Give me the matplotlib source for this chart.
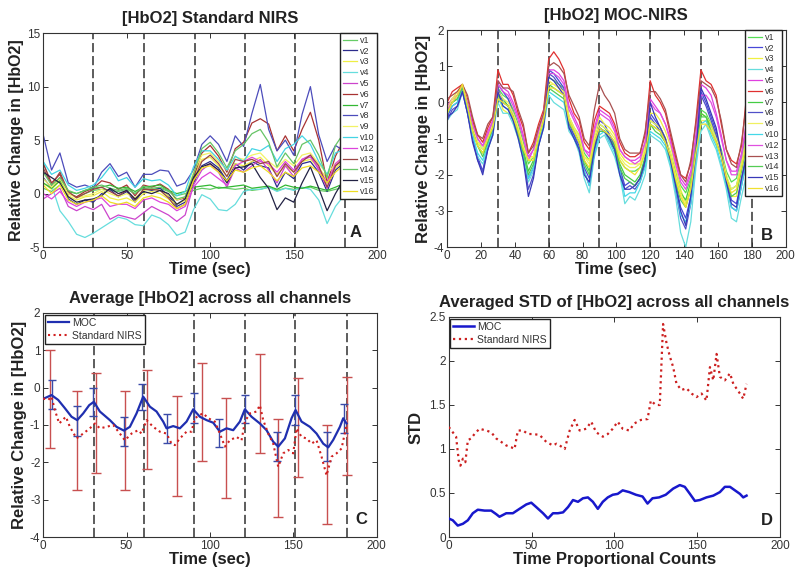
import matplotlib
matplotlib.use("Agg")
import matplotlib.pyplot as plt

plt.rcParams['font.family'] = ['Liberation Sans', 'DejaVu Sans']
plt.rcParams['axes.unicode_minus'] = False

# ---------------- panel A: standard NIRS, all channels ----------------
t_a = [0, 5, 10, 15, 20, 25, 30, 35, 40, 45, 50, 55, 60, 65, 70, 75, 80, 85, 90, 95,
       100, 105, 110, 115, 120, 125, 130, 135, 140, 145, 150, 155, 160, 165, 170, 175, 178]

a_v1 = [0.5, 0.2, 0.8, 0.0, -0.3, 0.0, 0.3, 0.4, 0.3, 0.2, 0.4, 0.0, 0.5, 0.4, 0.5, 0.2, -0.2, 0.0, 0.3, 0.5,
        0.4, 0.6, 0.5, 0.4, 0.5, 0.3, 0.4, 0.6, 0.3, 0.5, 0.4, 0.5, 0.6, 0.3, 0.2, 0.4, 0.5]
a_v2 = [1.5, 0.5, 1.5, -0.5, -1.0, -0.6, -0.8, 0.0, 0.4, -0.3, 0.2, -0.8, 0.4, 0.3, 0.5, -0.2, -1.2, -0.8, 1.0, 2.6,
        3.0, 2.4, 1.2, 2.8, 2.2, 3.0, 2.6, 2.4, 0.6, 2.0, 1.4, 2.8, 3.0, 2.0, 0.2, 2.2, 2.6]
a_v3 = [1.0, 0.4, 1.2, -0.2, -0.6, -0.3, -0.2, 0.2, -0.4, -0.6, -0.4, -0.8, 0.0, 0.2, 0.0, -0.5, -1.0, -0.6, 1.6, 3.2,
        3.4, 2.6, 1.6, 2.8, 2.6, 3.0, 3.4, 2.6, 1.8, 2.6, 2.0, 3.0, 3.2, 2.4, 1.4, 2.4, 2.8]
a_v4 = [3.0, 0.8, -1.6, -2.6, -3.8, -4.1, -3.7, -3.2, -2.7, -2.2, -2.4, -2.9, -3.0, -2.0, -2.3, -2.9, -3.9, -3.6, -1.5, -0.1,
        -0.5, -1.5, -1.6, -1.0, 0.2, 0.4, 0.4, 0.6, 0.2, 0.5, 0.3, 0.6, 0.4, -0.6, -2.8, -1.2, -0.6]
a_v5 = [-0.5, 0.0, 0.5, -1.2, -1.6, -1.2, -1.5, -1.0, -2.4, -2.0, -2.2, -2.4, -1.8, -1.2, -1.6, -2.0, -2.6, -2.0, 0.8, 2.2,
        2.8, 2.0, 0.6, 2.4, 2.0, 2.6, 3.2, 2.2, 1.0, 2.6, 1.6, 3.2, 3.6, 2.2, 0.5, 2.6, 3.0]
a_v6 = [2.8, 1.0, 1.8, 0.0, -0.3, 0.2, 0.5, 1.2, 1.0, 0.4, 0.8, -0.2, 0.8, 0.6, 0.9, 0.4, -0.6, -0.4, 1.5, 3.8,
        4.5, 3.5, 2.0, 4.2, 4.8, 6.6, 7.0, 6.5, 4.0, 5.4, 4.0, 6.0, 7.6, 5.0, 1.0, 3.5, 4.4]
a_v7 = [1.0, 0.5, 1.2, 0.2, 0.0, 0.3, 0.5, 0.6, 0.8, 0.5, 0.6, 0.2, 0.6, 0.7, 0.8, 0.3, 0.0, 0.2, 0.6, 0.7,
        0.8, 0.5, 0.6, 0.7, 0.8, 0.5, 0.6, 0.7, 0.4, 0.8, 0.6, 0.5, 0.7, 0.5, 0.3, 0.6, 0.8]
a_v8 = [5.5, 2.2, 3.8, 1.0, 0.6, 0.8, 0.5, 2.0, 2.8, 1.6, 2.0, 0.6, 1.8, 1.8, 2.2, 2.1, 0.7, 1.0, 2.2, 4.6,
        5.4, 4.6, 3.0, 5.4, 4.4, 7.5, 10.2, 6.0, 4.0, 5.0, 3.6, 7.4, 10.0, 5.5, 3.0, 4.5, 4.2]
a_v9 = [1.4, 0.6, 1.4, 0.0, -0.4, -0.2, 0.0, 0.4, 0.0, -0.3, 0.0, -0.4, 0.3, 0.4, 0.3, -0.2, -0.6, -0.3, 2.0, 3.6,
        3.8, 3.0, 2.2, 3.4, 3.2, 3.6, 3.8, 3.0, 2.4, 3.2, 2.6, 3.6, 3.8, 2.8, 1.8, 2.8, 3.2]
a_v10 = [3.0, 1.8, 2.2, 0.8, 0.3, 0.5, 0.8, 1.5, 2.5, 1.2, 1.5, 0.6, 1.4, 1.2, 1.3, 0.8, -0.2, 0.2, 2.5, 4.0,
         4.0, 3.2, 2.2, 3.5, 3.0, 4.2, 4.0, 4.5, 3.0, 4.2, 4.6, 5.4, 4.6, 3.0, 1.8, 3.8, 4.0]
a_v12 = [0.0, -0.5, 0.2, -0.8, -1.2, -0.8, -0.6, -0.4, -1.2, -1.0, -1.0, -1.4, -0.6, -0.4, -0.8, -1.0, -1.6, -1.2, 0.6, 1.5,
         2.0, 1.4, 0.8, 2.6, 3.0, 3.4, 3.0, 2.8, 2.0, 3.0, 2.2, 3.2, 3.4, 2.4, 1.0, 2.8, 3.2]
a_v13 = [2.4, 0.8, 2.0, 0.2, -0.4, 0.0, 0.4, 0.6, 0.2, -0.2, 0.3, -0.6, 0.4, 0.4, 0.3, -0.4, -1.4, -1.0, 1.2, 3.0,
         3.6, 2.8, 1.6, 3.2, 3.0, 3.2, 2.8, 3.0, 1.6, 2.8, 2.0, 3.0, 3.6, 2.6, 0.6, 2.6, 3.0]
a_v14 = [2.0, 0.8, 1.5, 0.3, 0.0, 0.3, 0.6, 0.8, 0.5, 0.3, 0.5, 0.0, 0.7, 0.5, 0.6, 0.3, -0.5, -0.3, 1.8, 4.2,
         4.8, 3.8, 2.4, 4.0, 4.6, 5.6, 6.0, 4.8, 2.5, 3.8, 2.8, 4.6, 5.0, 3.6, 1.5, 4.5, 5.2]
a_v15 = [2.0, 1.5, 1.0, -0.3, -0.8, -0.6, -0.5, -0.2, 0.5, 0.0, 0.3, -0.5, 0.2, 0.0, 0.3, 0.0, -1.0, -0.5, 1.5, 2.5,
         2.8, 2.2, 1.0, 2.4, 2.5, 2.8, 1.5, 0.5, -1.5, -0.4, -0.8, 1.0, 2.5, 0.5, -1.6, 0.0, 0.8]
a_v16 = [0.8, 0.0, 0.8, -0.6, -1.0, -0.8, -0.6, -0.2, -0.8, -1.0, -0.8, -1.2, -0.4, -0.2, -0.4, -0.8, -1.4, -1.0, 1.2, 2.4,
         2.6, 2.0, 1.2, 2.2, 2.0, 2.4, 2.6, 2.0, 1.2, 2.0, 1.6, 2.4, 2.6, 2.0, 1.0, 2.0, 2.4]

# ---------------- panel B: MOC-NIRS, all channels ----------------
t_b = [0, 3, 6, 9, 12, 15, 18, 21, 24, 27, 30, 33, 36, 39, 42, 45, 48, 51, 54, 57,
       60, 63, 66, 69, 72, 75, 78, 81, 84, 87, 90, 93, 96, 99, 102, 105, 108, 111, 114, 117,
       120, 123, 126, 129, 132, 135, 138, 141, 144, 147, 150, 153, 156, 159, 162, 165, 168, 171, 174, 177]

b_v1 = [-0.1, 0.1, 0.2, 0.4, 0.0, -0.6, -1.1, -1.3, -0.9, -0.6,
        0.4, 0.2, 0.1, -0.2, -0.6, -1.1, -1.7, -1.5, -0.9, -0.4,
        0.7, 0.6, 0.5, 0.4, -0.4, -0.7, -0.9, -1.4, -1.6, -1.0,
        -0.6, -0.7, -0.9, -1.1, -1.6, -1.8, -1.9, -1.9, -1.8, -1.3,
        -0.5, -0.6, -0.7, -1.0, -1.4, -1.9, -2.3, -2.5, -2.1, -1.1,
        -0.2, -0.3, -0.6, -0.9, -1.3, -1.9, -2.2, -2.1, -1.5, -0.8]
b_v2 = [-0.4, -0.1, 0.0, 0.4, -0.2, -0.9, -1.5, -1.9, -1.2, -0.8,
        0.5, 0.3, 0.1, -0.3, -0.8, -1.4, -2.1, -1.8, -1.1, -0.6,
        0.9, 0.8, 0.6, 0.4, -0.6, -0.9, -1.2, -1.8, -2.1, -1.2,
        -0.5, -0.6, -0.9, -1.2, -1.8, -2.3, -2.2, -2.3, -2.1, -1.6,
        -0.3, -0.5, -0.7, -1.0, -1.5, -2.2, -2.9, -3.2, -2.6, -1.4,
        0.3, 0.0, -0.4, -0.8, -1.4, -2.1, -2.7, -2.8, -2.1, -1.4]
b_v3 = [-0.1, 0.1, 0.3, 0.5, 0.0, -0.7, -1.1, -1.2, -0.9, -0.6,
        0.2, -0.2, -0.3, -0.4, -0.8, -1.3, -1.5, -1.5, -1.0, -0.5,
        0.6, 0.5, 0.4, 0.3, -0.4, -0.7, -0.9, -1.5, -1.6, -0.9,
        -0.4, -0.6, -0.7, -0.9, -1.4, -1.6, -1.7, -1.7, -1.7, -1.2,
        -0.3, -0.3, -0.5, -0.8, -1.2, -1.8, -2.4, -2.8, -2.2, -1.2,
        -0.3, -0.4, -0.6, -0.9, -1.4, -2.0, -2.6, -2.6, -1.8, -1.2]
b_v4 = [-0.5, -0.3, -0.2, 0.3, -0.3, -1.0, -1.5, -1.7, -1.3, -0.9,
        0.0, -0.3, -0.3, -0.6, -1.0, -1.6, -2.2, -1.9, -1.2, -0.7,
        0.2, 0.0, -0.1, -0.2, -0.8, -1.0, -1.4, -2.1, -2.5, -1.5,
        -1.0, -0.9, -1.2, -1.5, -2.0, -2.8, -2.6, -2.7, -2.4, -2.0,
        -0.9, -1.0, -1.1, -1.3, -1.8, -2.6, -3.6, -4.0, -3.3, -1.8,
        -0.8, -0.6, -1.0, -1.3, -1.8, -2.4, -3.2, -3.3, -2.6, -2.0]
b_v5 = [-0.1, 0.1, 0.2, 0.45, 0.0, -0.5, -1.0, -1.2, -0.8, -0.5,
        0.6, 0.4, 0.3, 0.0, -0.4, -0.9, -1.6, -1.3, -0.8, -0.3,
        0.9, 0.9, 0.8, 0.6, -0.1, -0.4, -0.7, -1.3, -1.4, -0.7,
        -0.2, -0.3, -0.4, -0.7, -1.3, -1.5, -1.6, -1.6, -1.5, -1.1,
        0.1, -0.1, -0.3, -0.6, -1.0, -1.6, -2.1, -2.3, -1.9, -0.9,
        0.5, 0.4, 0.2, -0.3, -0.9, -1.6, -1.9, -1.9, -1.4, -0.5]
b_v6 = [0.0, 0.3, 0.4, 0.5, 0.1, -0.5, -0.9, -1.1, -0.7, -0.4,
        0.9, 0.5, 0.5, 0.2, -0.3, -0.7, -1.4, -1.1, -0.6, -0.2,
        1.2, 1.4, 1.2, 0.9, 0.1, -0.3, -0.5, -1.1, -1.3, -0.5,
        -0.1, -0.2, -0.3, -0.6, -1.1, -1.4, -1.5, -1.5, -1.4, -0.9,
        0.6, 0.2, 0.0, -0.3, -0.9, -1.5, -2.0, -2.1, -1.7, -0.5,
        0.9, 0.6, 0.5, 0.2, -0.6, -1.3, -1.6, -1.7, -1.2, 0.2]
b_v7 = [-0.2, 0.0, 0.1, 0.4, -0.1, -0.7, -1.2, -1.4, -1.1, -0.7,
        0.3, 0.1, -0.1, -0.4, -0.8, -1.3, -1.9, -1.6, -1.0, -0.5,
        0.5, 0.4, 0.3, 0.2, -0.5, -0.8, -1.1, -1.6, -1.9, -1.1,
        -0.7, -0.8, -1.0, -1.2, -1.7, -2.0, -2.1, -2.2, -2.0, -1.5,
        -0.6, -0.7, -0.8, -1.1, -1.5, -2.0, -2.5, -2.7, -2.2, -1.2,
        -0.3, -0.4, -0.7, -1.0, -1.5, -2.1, -2.4, -2.3, -1.7, -1.0]
b_v8 = [-0.5, -0.2, -0.1, 0.3, -0.3, -1.0, -1.6, -1.9, -1.3, -0.8,
        0.4, 0.0, -0.1, -0.5, -0.9, -1.5, -2.4, -2.0, -1.2, -0.6,
        0.8, 0.7, 0.5, 0.3, -0.7, -0.9, -1.3, -1.9, -2.3, -1.4,
        -0.8, -0.8, -1.1, -1.3, -1.9, -2.4, -2.3, -2.4, -2.2, -1.7,
        -0.4, -0.6, -0.8, -1.1, -1.6, -2.4, -3.2, -3.5, -2.8, -1.5,
        0.2, -0.1, -0.5, -0.9, -1.5, -2.2, -2.9, -3.0, -2.3, -1.6]
b_v9 = [-0.2, 0.1, 0.2, 0.5, 0.0, -0.7, -1.1, -1.3, -1.0, -0.6,
        0.3, 0.1, 0.0, -0.3, -0.7, -1.2, -1.6, -1.5, -0.9, -0.4,
        0.5, 0.5, 0.4, 0.3, -0.4, -0.7, -1.0, -1.5, -1.7, -1.0,
        -0.6, -0.7, -0.8, -1.0, -1.5, -1.7, -1.8, -1.8, -1.7, -1.3,
        -0.5, -0.6, -0.7, -1.0, -1.4, -2.0, -2.5, -2.9, -2.3, -1.3,
        -0.5, -0.5, -0.7, -1.0, -1.4, -2.0, -2.4, -2.3, -1.7, -1.0]
b_v10 = [-0.3, -0.1, 0.0, 0.4, -0.2, -0.9, -1.4, -1.6, -1.2, -0.8,
         0.1, -0.1, -0.2, -0.5, -0.9, -1.5, -2.1, -1.8, -1.1, -0.6,
         0.3, 0.2, 0.1, 0.0, -0.7, -1.0, -1.3, -1.9, -2.3, -1.4,
         -0.9, -0.8, -1.1, -1.4, -1.9, -2.6, -2.5, -2.5, -2.2, -1.8,
         -0.8, -0.9, -1.0, -1.2, -1.7, -2.4, -3.1, -3.3, -2.8, -1.6,
         -0.6, -0.5, -0.9, -1.2, -1.7, -2.3, -2.9, -3.0, -2.3, -1.6]
b_v12 = [-0.2, 0.0, 0.2, 0.4, 0.0, -0.6, -1.0, -1.2, -0.9, -0.5,
         0.5, 0.3, 0.2, -0.1, -0.5, -1.0, -1.5, -1.3, -0.8, -0.3,
         0.8, 0.8, 0.7, 0.5, -0.2, -0.5, -0.8, -1.3, -1.5, -0.8,
         -0.3, -0.4, -0.5, -0.8, -1.3, -1.5, -1.6, -1.7, -1.6, -1.1,
         0.0, -0.2, -0.3, -0.6, -1.1, -1.7, -2.2, -2.4, -2.0, -1.0,
         0.2, 0.2, 0.0, -0.4, -1.0, -1.6, -2.0, -2.0, -1.5, -0.6]
b_v13 = [0.1, 0.2, 0.3, 0.5, 0.2, -0.4, -0.9, -1.0, -0.6, -0.4,
         0.6, 0.4, 0.4, 0.3, -0.2, -0.6, -1.4, -1.2, -0.7, -0.3,
         1.0, 1.1, 1.0, 0.8, 0.2, -0.1, -0.4, -1.0, -1.2, -0.2,
         0.5, 0.2, 0.0, -0.3, -1.0, -1.3, -1.4, -1.4, -1.4, -0.8,
         0.3, 0.3, 0.1, -0.2, -0.8, -1.4, -2.0, -2.2, -1.6, -0.6,
         0.6, 0.5, 0.4, 0.1, -0.5, -1.3, -1.7, -1.8, -1.1, 0.0]
b_v14 = [-0.3, 0.0, 0.1, 0.4, -0.1, -0.8, -1.2, -1.5, -1.1, -0.7,
         0.2, 0.0, -0.1, -0.4, -0.9, -1.4, -2.0, -1.7, -1.0, -0.5,
         0.4, 0.3, 0.2, 0.1, -0.6, -0.8, -1.1, -1.7, -2.0, -1.2,
         -0.8, -0.8, -1.0, -1.3, -1.8, -2.1, -2.2, -2.3, -2.1, -1.6,
         -0.6, -0.8, -0.9, -1.1, -1.6, -2.2, -2.7, -2.9, -2.4, -1.3,
         -0.4, -0.4, -0.8, -1.1, -1.5, -2.1, -2.6, -2.5, -1.9, -1.2]
b_v15 = [-0.4, -0.3, -0.1, 0.3, -0.3, -1.1, -1.6, -2.0, -1.3, -0.9,
         0.3, -0.1, -0.2, -0.5, -1.0, -1.6, -2.6, -2.1, -1.2, -0.7,
         0.7, 0.6, 0.4, 0.2, -0.7, -1.0, -1.3, -2.0, -2.2, -1.3,
         -0.7, -0.8, -1.0, -1.3, -2.0, -2.4, -2.4, -2.3, -2.1, -1.6,
         0.0, -0.4, -0.7, -1.0, -1.6, -2.3, -3.0, -3.4, -2.6, -1.4,
         0.4, 0.1, -0.3, -0.7, -1.4, -2.2, -2.8, -2.9, -2.1, -1.5]
b_v16 = [-0.3, 0.0, 0.2, 0.5, -0.1, -0.8, -1.2, -1.4, -1.0, -0.7,
         0.1, 0.0, -0.1, -0.4, -0.8, -1.3, -1.6, -1.6, -1.0, -0.5,
         0.4, 0.4, 0.3, 0.2, -0.5, -0.8, -1.1, -1.6, -1.8, -1.1,
         -0.7, -0.8, -0.9, -1.1, -1.6, -1.8, -1.9, -2.0, -1.8, -1.4,
         -0.6, -0.7, -0.8, -1.1, -1.5, -2.1, -2.6, -2.9, -2.4, -1.4,
         -0.6, -0.6, -0.8, -1.1, -1.5, -2.1, -2.5, -2.4, -1.8, -1.1]

channel_labels = ['v1', 'v2', 'v3', 'v4', 'v5', 'v6', 'v7', 'v8', 'v9', 'v10', 'v12', 'v13', 'v14', 'v15', 'v16']
colors_a = ['#66cc66', '#2c2c8c', '#eeee44', '#66dddd', '#cc44cc', '#a83232', '#33b833', '#4c4cbb',
            '#f2f266', '#44d4e4', '#dd44dd', '#9a4444', '#66c466', '#222244', '#eedd22']
colors_b = ['#55dd55', '#4848d8', '#f0f040', '#66dddd', '#e040e0', '#e03030', '#44cc44', '#5050c8',
            '#f0f060', '#44d8e8', '#e050e0', '#a85050', '#55cc55', '#3838b8', '#f0e030']

stim_a = [30, 60.4, 90.6, 121, 151, 181]
stim_b = [30, 60, 90, 120, 150, 180]
stim_c = [30.4, 60.6, 90.6, 121, 151, 182]

# ---------------- panel C: channel averages ----------------
t_moc = [0, 5, 9, 13, 17, 20.4, 24, 27.6, 30.4, 34, 40, 44, 48.4, 52, 56, 60, 64, 68, 72, 74,
         78, 82, 86, 90, 94, 98, 102, 106, 110, 114, 118, 121, 125, 130, 134, 138, 141, 145, 149, 151.4,
         155, 160, 164, 168, 171, 174, 178, 180, 182]
avg_moc = [-0.3, -0.2, -0.33, -0.55, -0.78, -0.87, -0.69, -0.47, -0.38, -0.64,
           -0.87, -1.05, -1.15, -1.05, -0.69, -0.24, -0.51, -0.64, -0.91, -1.09,
           -1.03, -1.09, -0.91, -0.58, -0.78, -0.87, -0.94, -1.18, -1.09, -1.14,
           -0.91, -0.58, -0.78, -0.96, -1.14, -1.45, -1.58, -1.36, -0.82, -0.6,
           -0.91, -1.05, -1.23, -1.5, -1.6, -1.4, -1.05, -0.82, -0.96]
t_nirs = [0, 3, 5, 7, 9.6, 11.6, 13.6, 16, 20, 24, 28, 31, 34, 38, 42, 46, 49, 53, 57, 59,
          62, 66, 70, 74, 77, 79, 82, 86, 89, 91, 94, 96, 99, 103, 106, 109, 112, 116, 119, 121,
          124, 128, 130, 132, 135, 138, 141, 144, 147, 150, 152, 155, 158, 161, 164, 167, 170, 173, 176, 179, 182]
avg_nirs = [-0.29, -0.33, -0.24, -0.6, -0.96, -0.87, -0.78, -1.05, -1.36, -1.23,
            -1.09, -0.96, -1.09, -1.05, -1.0, -1.23, -1.41, -1.23, -1.14, -1.23,
            -0.87, -1.05, -1.18, -1.23, -1.5, -1.54, -1.36, -1.18, -1.18, -0.82,
            -0.73, -0.69, -0.82, -0.91, -1.23, -1.58, -1.41, -1.32, -1.41, -0.91,
            -0.69, -0.64, -0.47, -0.87, -1.23, -1.5, -2.12, -1.76, -1.67, -1.76,
            -1.09, -1.32, -1.36, -1.5, -1.41, -1.85, -2.35, -1.85, -1.76, -1.63, -1.0]

moc_err_t = [5, 20.5, 30, 48.5, 59.5, 74.5, 90.5, 105.5, 121, 140.5, 151, 170.5, 180.5]
moc_err_mid = [-0.18, -0.9, -0.38, -1.17, -0.25, -1.1, -0.55, -1.22, -0.58, -1.58, -0.6, -1.58, -0.83]
moc_err = [0.38, 0.4, 0.38, 0.38, 0.36, 0.39, 0.4, 0.38, 0.38, 0.38, 0.39, 0.38, 0.38]
nirs_err_t = [4, 20, 31.5, 49, 62, 80, 95, 109.5, 130, 141, 153, 170, 182]
nirs_err_mid = [-0.3, -1.42, -0.95, -1.42, -0.85, -1.56, -0.65, -1.62, -0.43, -2.16, -1.07, -2.33, -1.03]
nirs_err = [1.32, 1.33, 1.33, 1.33, 1.33, 1.34, 1.32, 1.33, 1.33, 1.31, 1.33, 1.32, 1.31]

# ---------------- panel D: averaged STD ----------------
t_std_moc = [0, 2.4, 5.4, 8.5, 11.5, 14.5, 17.5, 21.6, 25.6, 28.6, 30.6, 34.7, 38.7, 42.7, 46.8, 49.8, 52.8, 56.9, 59.9, 62.9,
             65.9, 69, 72, 75, 78, 81, 84, 87, 90, 93, 96, 99, 102, 105, 109, 113, 117, 120, 123, 127,
             131, 135.5, 139.5, 142.5, 145.6, 148.6, 151.6, 155.6, 159.7, 163.7, 166.7, 169.8, 172.8, 175.8, 177.8, 179.8]
std_moc = [0.21, 0.19, 0.13, 0.15, 0.19, 0.27, 0.31, 0.3, 0.3, 0.26, 0.23, 0.27, 0.27, 0.32, 0.37, 0.39, 0.34, 0.27, 0.21, 0.27,
           0.27, 0.28, 0.34, 0.42, 0.40, 0.44, 0.45, 0.40, 0.32, 0.40, 0.45, 0.48, 0.49, 0.53, 0.51, 0.48, 0.46, 0.38, 0.44, 0.45,
           0.48, 0.55, 0.59, 0.57, 0.49, 0.41, 0.42, 0.45, 0.47, 0.51, 0.57, 0.57, 0.53, 0.49, 0.45, 0.47]
t_std_nirs = [0, 2.4, 4.4, 6, 7, 8.5, 10, 11.5, 13.5, 15.5, 18.5, 22.6, 25.6, 28.6, 31.7, 34.7, 37.7, 39.7, 41.7, 44.8,
              47.8, 50.8, 54.8, 58.9, 62.9, 65, 67, 70, 73, 76, 79, 83, 86, 89, 93, 96, 99, 102, 105, 109,
              112, 116, 120, 122, 125, 127.4, 129.4, 131.5, 133.5, 135.5, 137.5, 140.5, 143.5, 146.6, 149.6, 152.6,
              155.6, 157.7, 159.7, 161.7, 163.7, 166.7, 169.8, 171.8, 175.8, 177.8, 179.8]
std_nirs = [1.25, 1.19, 1.14, 0.87, 0.81, 0.89, 0.85, 1.1, 1.12, 1.17, 1.23, 1.21, 1.19, 1.12, 1.08, 1.04, 1.02, 1.0, 1.21, 1.21,
            1.17, 1.17, 1.16, 1.08, 1.04, 1.06, 1.04, 1.0, 1.21, 1.33, 1.21, 1.23, 1.31, 1.19, 1.14, 1.17, 1.23, 1.31, 1.23, 1.21,
            1.29, 1.33, 1.34, 1.55, 1.5, 1.5, 2.42, 2.2, 2.05, 1.93, 1.74, 1.67, 1.69, 1.63, 1.59, 1.63,
            1.55, 1.93, 1.78, 2.08, 1.82, 1.78, 1.86, 1.74, 1.63, 1.57, 1.74]

a_series = [a_v1, a_v2, a_v3, a_v4, a_v5, a_v6, a_v7, a_v8, a_v9, a_v10, a_v12, a_v13, a_v14, a_v15, a_v16]
b_series = [b_v1, b_v2, b_v3, b_v4, b_v5, b_v6, b_v7, b_v8, b_v9, b_v10, b_v12, b_v13, b_v14, b_v15, b_v16]

TXT = '#222222'


def style_axes(ax):
    ax.tick_params(direction='in', top=True, right=True, length=3.5, width=0.7,
                   labelsize=8.5, labelcolor='#333333', pad=2, colors='#333333')
    for sp in ax.spines.values():
        sp.set_linewidth(0.8)
        sp.set_color('#333333')


def stim_lines(ax, xs):
    for x in xs:
        ax.axvline(x, color='#303030', lw=1.1, ls=(0, (6, 2.5)), zorder=1)


def channel_legend(ax, anchor):
    ax.legend(loc='upper right', bbox_to_anchor=anchor, borderaxespad=0, fontsize=6.5,
              labelspacing=0.2, handlelength=1.6, handletextpad=0.3, borderpad=0.3,
              fancybox=False, framealpha=1, edgecolor='#222222', labelcolor='#333333')


fig = plt.figure(figsize=(8, 5.76), dpi=100)

# ---- A ----
axA = fig.add_axes([0.054, 0.571, 0.4175, 0.3715])
stim_lines(axA, stim_a)
for lab, col, ys in zip(channel_labels, colors_a, a_series):
    axA.plot(t_a, ys, color=col, lw=0.9, label=lab, zorder=2)
axA.set_xlim(0, 200)
axA.set_ylim(-5, 15)
axA.set_xticks([0, 50, 100, 150, 200])
axA.set_yticks([-5, 0, 5, 10, 15])
style_axes(axA)
channel_legend(axA, (1.0, 1.0))
axA.set_title('[HbO2] Standard NIRS', fontsize=12, fontweight='bold', color=TXT, pad=7)
axA.set_xlabel('Time (sec)', fontsize=12, fontweight='bold', color=TXT, labelpad=0)
axA.set_ylabel('Relative Change in [HbO2]', fontsize=11.5, fontweight='bold', color=TXT, labelpad=2)
axA.text(0.935, 0.07, 'A', transform=axA.transAxes, ha='center', va='center',
         fontsize=12, fontweight='bold', color=TXT)

# ---- B ----
axB = fig.add_axes([0.559, 0.571, 0.4229, 0.3767])
stim_lines(axB, stim_b)
for lab, col, ys in zip(channel_labels, colors_b, b_series):
    axB.plot(t_b, ys, color=col, lw=0.9, label=lab, zorder=2)
axB.set_xlim(0, 200)
axB.set_ylim(-4, 2)
axB.set_xticks([0, 20, 40, 60, 80, 100, 120, 140, 160, 180, 200])
axB.set_yticks([-4, -3, -2, -1, 0, 1, 2])
style_axes(axB)
channel_legend(axB, (0.99, 1.0))
axB.set_title('[HbO2] MOC-NIRS', fontsize=12, fontweight='bold', color=TXT, pad=7)
axB.set_xlabel('Time (sec)', fontsize=12, fontweight='bold', color=TXT, labelpad=0)
axB.set_ylabel('Relative Change in [HbO2]', fontsize=12, fontweight='bold', color=TXT, labelpad=2)
axB.text(0.944, 0.055, 'B', transform=axB.transAxes, ha='center', va='center',
         fontsize=12, fontweight='bold', color=TXT)

# ---- C ----
axC = fig.add_axes([0.054, 0.0677, 0.4167, 0.389])
stim_lines(axC, stim_c)
axC.errorbar(nirs_err_t, nirs_err_mid, yerr=nirs_err, fmt='none', ecolor='#c85050',
             elinewidth=1.0, capsize=3.5, capthick=1.0, zorder=2)
axC.errorbar(moc_err_t, moc_err_mid, yerr=moc_err, fmt='none', ecolor='#3a4aa8',
             elinewidth=1.0, capsize=3, capthick=1.0, zorder=3)
axC.plot(t_moc, avg_moc, color='#1f2fb0', lw=1.6, label='MOC', zorder=4)
axC.plot(t_nirs, avg_nirs, color='#d02020', lw=1.5, ls=':', label='Standard NIRS', zorder=4)
axC.set_xlim(0, 200)
axC.set_ylim(-4, 2)
axC.set_xticks([0, 50, 100, 150, 200])
axC.set_yticks([-4, -3, -2, -1, 0, 1, 2])
style_axes(axC)
axC.legend(loc='upper left', borderaxespad=0.15, fontsize=7.5, labelspacing=0.3,
           handlelength=2.0, handletextpad=0.3, borderpad=0.3, fancybox=False,
           framealpha=1, edgecolor='#222222', labelcolor='#333333')
axC.set_title('Average [HbO2] across all channels', fontsize=12, fontweight='bold', color=TXT, pad=7)
axC.set_xlabel('Time (sec)', fontsize=12, fontweight='bold', color=TXT, labelpad=0)
axC.set_ylabel('Relative Change in [HbO2]', fontsize=12, fontweight='bold', color=TXT, labelpad=2)
axC.text(0.955, 0.076, 'C', transform=axC.transAxes, ha='center', va='center',
         fontsize=12, fontweight='bold', color=TXT)

# ---- D ----
axD = fig.add_axes([0.561, 0.0677, 0.414, 0.382])
axD.plot(t_std_moc, std_moc, color='#1818cc', lw=1.8, label='MOC', zorder=3)
axD.plot(t_std_nirs, std_nirs, color='#cc2020', lw=1.6, ls=':', label='Standard NIRS', zorder=3)
axD.set_xlim(0, 200)
axD.set_ylim(0, 2.5)
axD.set_xticks([0, 50, 100, 150, 200])
axD.set_yticks([0, 0.5, 1, 1.5, 2, 2.5])
axD.set_yticklabels(['0', '0.5', '1', '1.5', '2', '2.5'])
style_axes(axD)
axD.legend(loc='upper left', borderaxespad=0.15, fontsize=7.5, labelspacing=0.3,
           handlelength=2.0, handletextpad=0.3, borderpad=0.3, fancybox=False,
           framealpha=1, edgecolor='#222222', labelcolor='#333333')
axD.set_title('Averaged STD of [HbO2] across all channels', fontsize=12, fontweight='bold', color=TXT, pad=7)
axD.set_xlabel('Time Proportional Counts', fontsize=12, fontweight='bold', color=TXT, labelpad=0)
axD.set_ylabel('STD', fontsize=12, fontweight='bold', color=TXT, labelpad=4)
axD.text(0.96, 0.077, 'D', transform=axD.transAxes, ha='center', va='center',
         fontsize=12, fontweight='bold', color=TXT)

fig.savefig('out.png', dpi=100)
